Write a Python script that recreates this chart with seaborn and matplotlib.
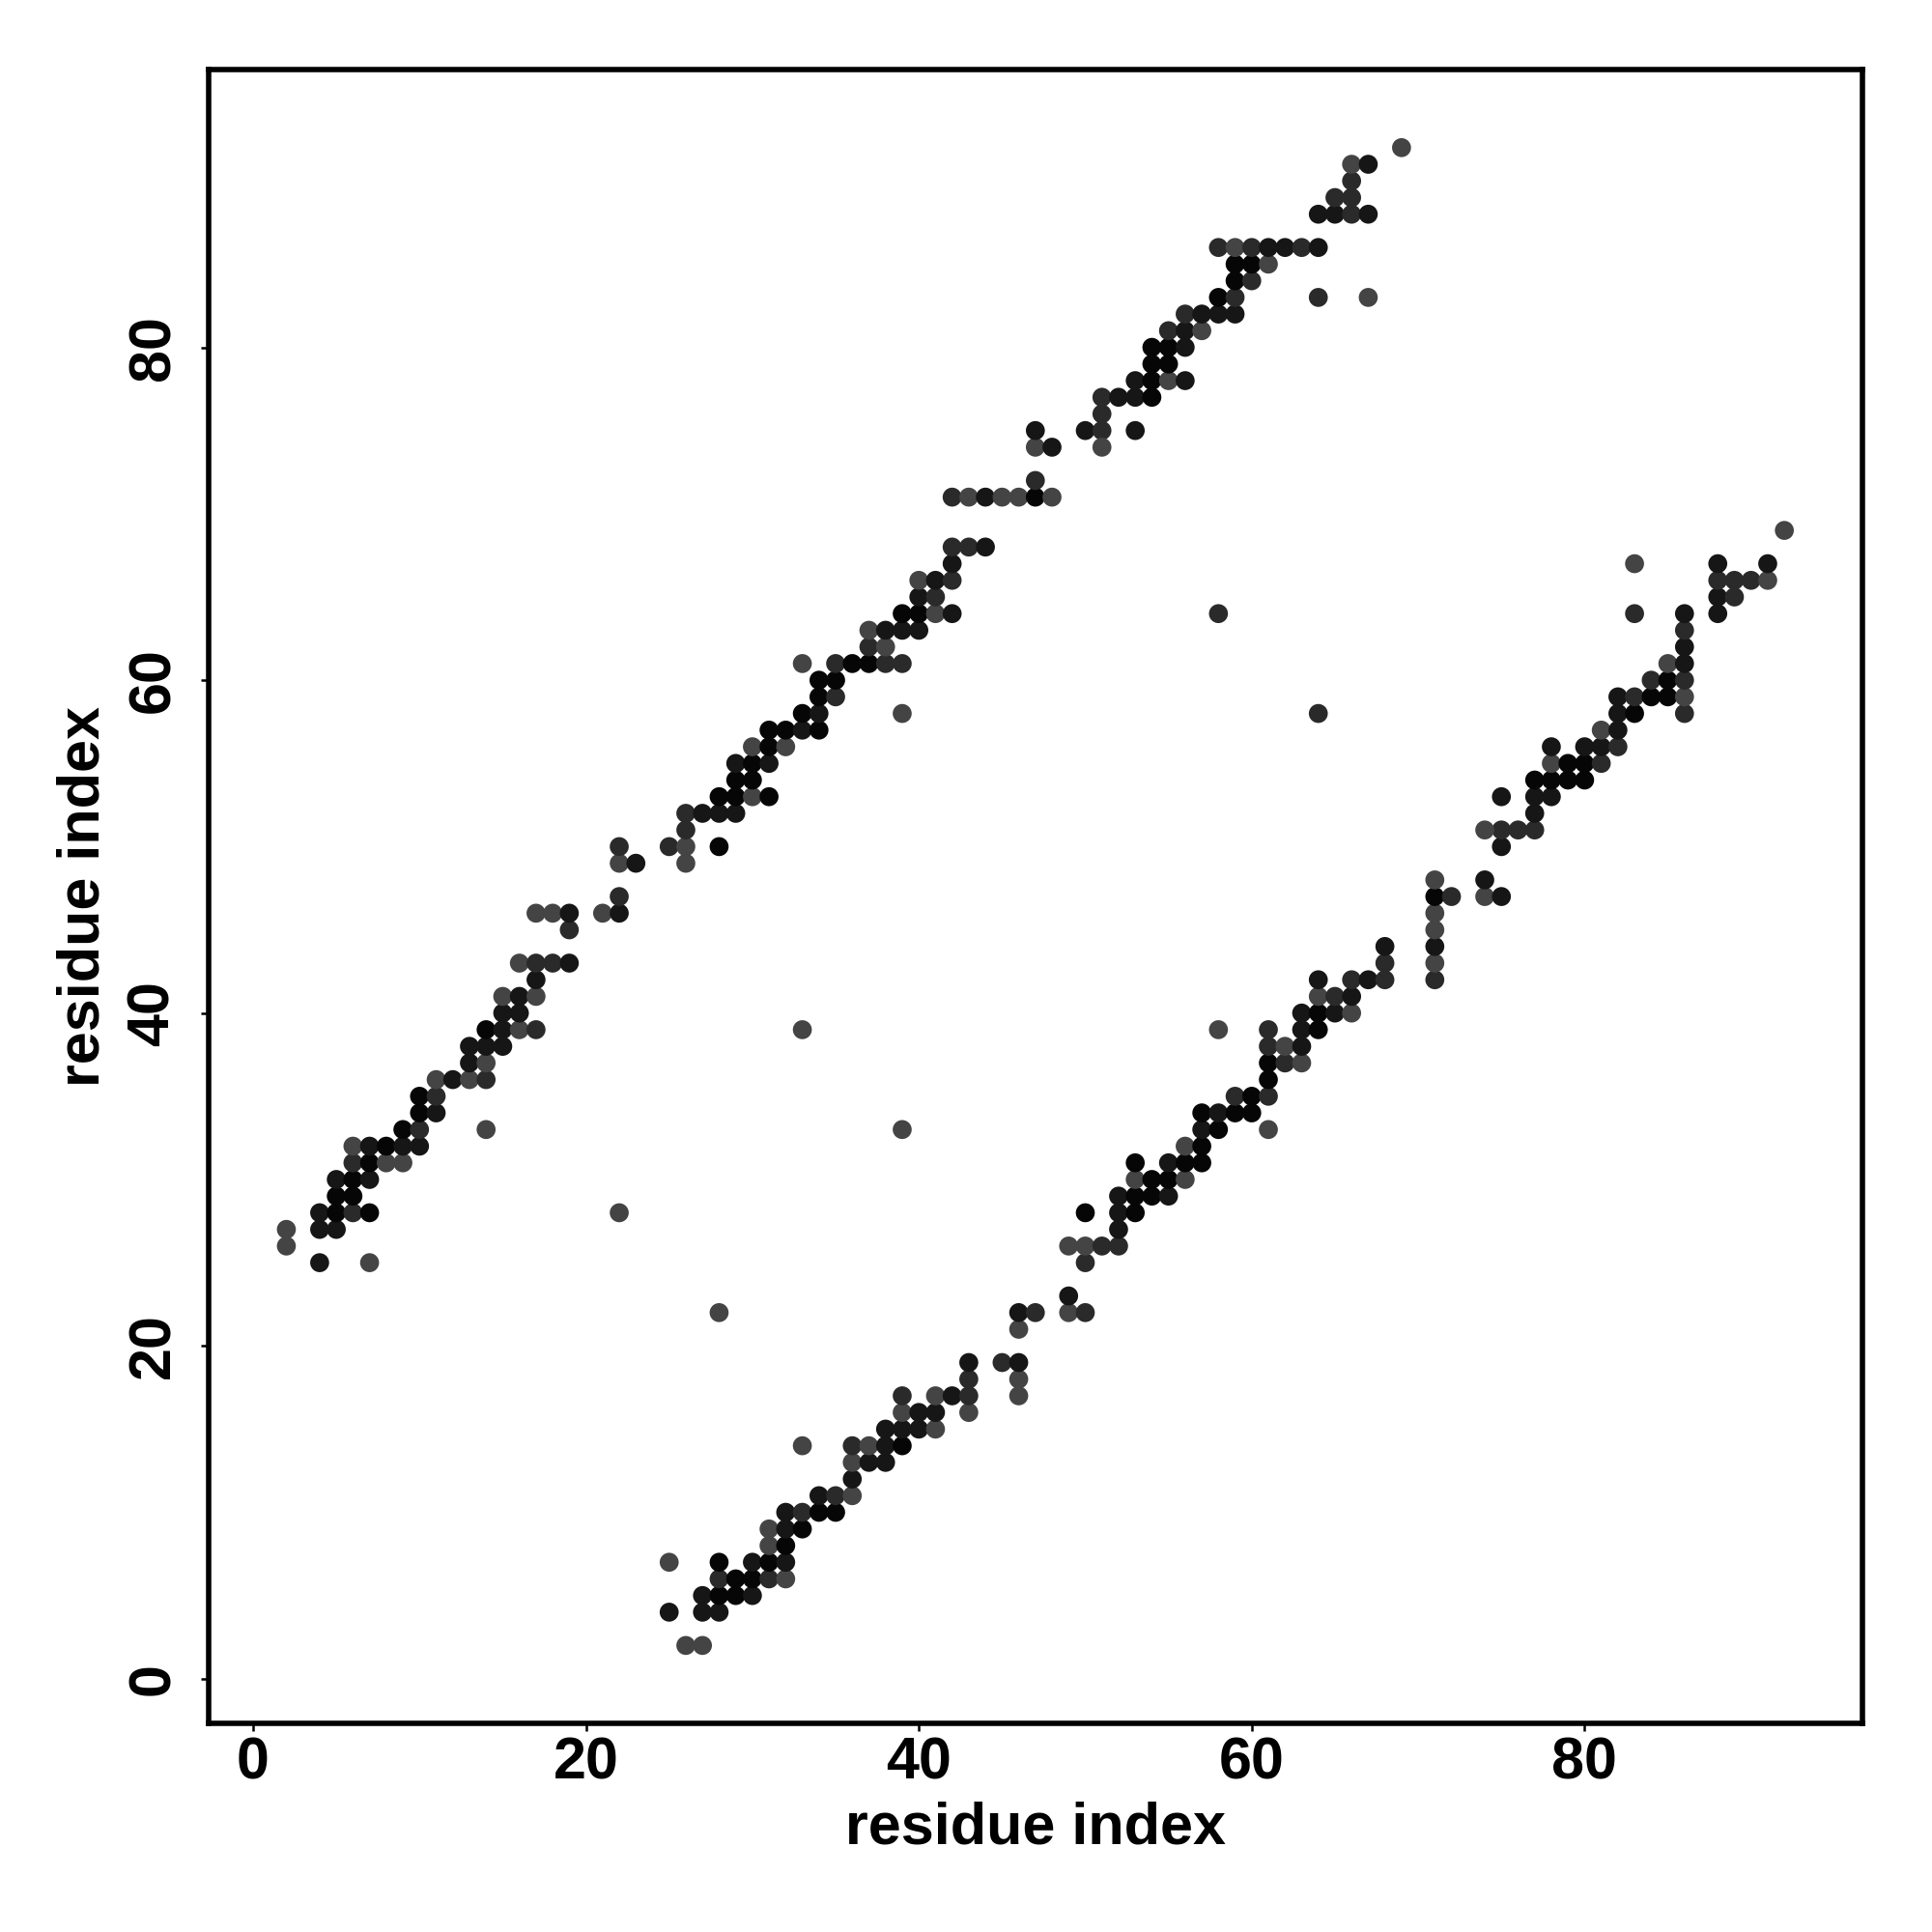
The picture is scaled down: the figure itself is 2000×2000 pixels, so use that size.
import pandas as pd
import numpy as np
import matplotlib
matplotlib.use("Agg")
import matplotlib.pyplot as plt
import seaborn as sns

sns.set_style("white")
plt.rcParams['font.family'] = ['Liberation Sans', 'DejaVu Sans']
plt.rcParams['text.color'] = 'black'
plt.rcParams['axes.labelcolor'] = 'black'
plt.rcParams['xtick.color'] = 'black'
plt.rcParams['ytick.color'] = 'black'

# contacts in the upper triangle (i < j); the map is symmetric
res_i = [2, 2, 4, 7, 4, 5, 4, 5, 6, 7,
         5, 6, 5, 6, 7, 6, 7, 8, 9, 6,
         7, 8, 9, 10, 9, 10, 14, 10, 11, 10,
         11, 11, 12, 13, 14, 13, 14, 13, 14, 15,
         14, 15, 16, 17, 15, 16, 15, 16, 17, 17,
         16, 17, 18, 19, 19, 17, 18, 19, 21, 22,
         22, 22, 23, 22, 25, 26, 26, 26, 28, 26,
         27, 28, 29, 28, 29, 30, 31, 29, 30, 29,
         30, 31, 30, 31, 32, 31, 32, 33, 34, 33,
         34, 39, 34, 35, 34, 35, 33, 35, 36, 37,
         38, 39, 37, 38, 37, 38, 39, 40, 39, 40,
         41, 42, 40, 41, 40, 41, 42, 42, 42, 43,
         44, 42, 43, 44, 45, 46, 47, 48, 47, 47,
         48, 47, 50, 51, 51, 51, 53, 51, 52, 53,
         54, 53, 54, 55, 56, 54, 55, 54, 55, 56,
         55, 56, 57, 56, 57, 58, 59, 58, 59, 59,
         60, 59, 60, 61, 58, 59, 60, 61, 62, 63,
         64, 64, 67, 64, 65, 66, 67, 65, 66, 66,
         66, 67, 69, 22, 33, 58]
res_j = [26, 27, 25, 25, 27, 27, 28, 28, 28, 28,
         29, 29, 30, 30, 30, 31, 31, 31, 31, 32,
         32, 32, 32, 32, 33, 33, 33, 34, 34, 35,
         35, 36, 36, 36, 36, 37, 37, 38, 38, 38,
         39, 39, 39, 39, 40, 40, 41, 41, 41, 42,
         43, 43, 43, 43, 45, 46, 46, 46, 46, 46,
         47, 49, 49, 50, 50, 49, 50, 51, 50, 52,
         52, 52, 52, 53, 53, 53, 53, 54, 54, 55,
         55, 55, 56, 56, 56, 57, 57, 57, 57, 58,
         58, 58, 59, 59, 60, 60, 61, 61, 61, 61,
         61, 61, 62, 62, 63, 63, 63, 63, 64, 64,
         64, 64, 65, 65, 66, 66, 66, 67, 68, 68,
         68, 71, 71, 71, 71, 71, 71, 71, 72, 74,
         74, 75, 75, 75, 74, 76, 75, 77, 77, 77,
         77, 78, 78, 78, 78, 79, 79, 80, 80, 80,
         81, 81, 81, 82, 82, 82, 82, 83, 83, 84,
         84, 85, 85, 85, 86, 86, 86, 86, 86, 86,
         86, 83, 83, 88, 88, 88, 88, 89, 89, 90,
         91, 91, 92, 28, 39, 64]
# contact strength, 4 = strongest (black) ... 1 = weakest (grey)
level = [1, 1, 3, 1, 3, 3, 3, 4, 2, 4,
         4, 4, 3, 4, 3, 2, 4, 1, 1, 1,
         3, 4, 3, 3, 4, 2, 1, 4, 3, 4,
         2, 1, 3, 1, 2, 3, 1, 3, 3, 3,
         4, 3, 1, 2, 3, 3, 1, 3, 1, 3,
         1, 2, 2, 3, 2, 1, 1, 3, 1, 3,
         2, 1, 3, 2, 2, 1, 1, 2, 4, 2,
         3, 3, 3, 4, 4, 1, 4, 4, 4, 3,
         4, 3, 1, 4, 1, 4, 4, 3, 4, 4,
         3, 1, 4, 2, 4, 4, 1, 2, 4, 4,
         2, 2, 2, 1, 1, 3, 3, 3, 4, 4,
         1, 3, 3, 2, 1, 3, 2, 3, 2, 2,
         3, 2, 1, 3, 1, 1, 4, 1, 2, 1,
         3, 3, 3, 2, 1, 2, 3, 2, 3, 3,
         4, 3, 4, 1, 3, 4, 4, 4, 4, 3,
         2, 3, 1, 2, 3, 3, 3, 4, 2, 4,
         2, 4, 4, 1, 2, 1, 2, 3, 3, 2,
         3, 2, 1, 3, 3, 2, 3, 2, 2, 2,
         1, 3, 1, 1, 1, 2]

seq_len = 93
ticks = [0, 20, 40, 60, 80]

upper = pd.DataFrame({'x': res_i, 'y': res_j, 'level': level})
lower = pd.DataFrame({'x': res_j, 'y': res_i, 'level': level})
contacts = pd.concat([upper, lower], ignore_index=True)

pal = {4: '#060606', 3: '#161616', 2: '#2a2a2a', 1: '#444444'}

fig = plt.figure(figsize=(10, 10), dpi=200)
ax = fig.add_axes([0.1079, 0.108, 0.856, 0.8559])
sns.scatterplot(data=contacts, x='x', y='y', hue='level', palette=pal,
                legend=False, s=50, linewidth=0, ax=ax)

ext = 0.04 * (seq_len - 1)
ax.set_xlim(1 - ext, seq_len + ext)
ax.set_ylim(1 - ext, seq_len + ext)
ax.set_xticks(ticks)
ax.set_yticks(ticks)
ax.set_xticklabels([str(t) for t in ticks], fontsize=22, fontweight='bold')
ax.set_yticklabels([str(t) for t in ticks], fontsize=22, fontweight='bold',
                   rotation=90, va='center')
ax.tick_params(bottom=True, left=True, direction='out', length=3, width=0.9,
               color='black', labelcolor='black')
ax.tick_params(axis='x', pad=2)
ax.tick_params(axis='y', pad=7)
for sp in ax.spines.values():
    sp.set_color('black')
    sp.set_linewidth(2.0)

ax.set_xlabel('residue index', fontsize=22, fontweight='bold', color='black')
ax.set_ylabel('residue index', fontsize=22, fontweight='bold', color='black')
ax.xaxis.set_label_coords(0.5, -0.047)
ax.yaxis.set_label_coords(-0.0588, 0.5)
ax.xaxis.label.set_va('top')

fig.savefig('out.png', dpi=200, facecolor='white')
